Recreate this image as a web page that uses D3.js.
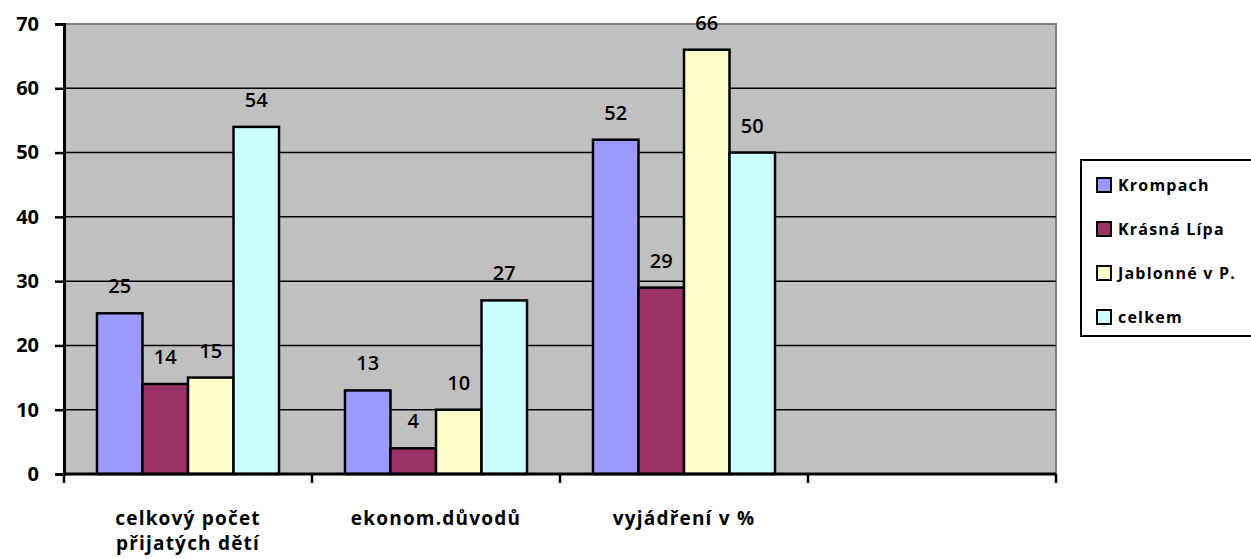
<!DOCTYPE html>
<html>
<head>
<meta charset="utf-8">
<script src="https://cdn.jsdelivr.net/npm/d3@7"></script>
<style>
  body { margin: 0; background: #fff; }
  .canvas svg { display: block; }
</style>
</head>
<body>
<div class="canvas"></div>
<script>
// data
const categories = ['celkový počet\npřijatých dětí', 'ekonom.důvodů', 'vyjádření v %', ''];
const seriesNames = ['Krompach', 'Krásná Lípa', 'Jablonné v P.', 'celkem'];
const krompach = [25, 13, 52];
const krasnaLipa = [14, 4, 29];
const jablonne = [15, 10, 66];
const celkem = [54, 27, 50];
const yTicks = [0, 10, 20, 30, 40, 50, 60, 70];
const colors = ['#9999ff', '#993366', '#ffffcc', '#ccffff'];

const seriesValues = [krompach, krasnaLipa, jablonne, celkem];

const svg = d3.select('.canvas').append('svg')
    .attr('width', 1251)
    .attr('height', 559);

const margin = { left: 64, top: 24, right: 195, bottom: 85 };
const graphWidth = 1251 - margin.left - margin.right;
const graphHeight = 559 - margin.top - margin.bottom;

const graph = svg.append('g')
    .attr('transform', `translate(${margin.left},${margin.top})`);

// scales
const y = d3.scaleLinear().domain([0, 70]).range([graphHeight, 0]);
const x0 = d3.scaleBand().domain(categories).range([0, graphWidth]);
const x1 = d3.scaleBand().domain(seriesNames)
    .range([0, x0.bandwidth()])
    .paddingOuter(0.725);

// plot background + border
graph.append('rect')
    .attr('width', graphWidth)
    .attr('height', graphHeight)
    .attr('fill', '#c0c0c0');
graph.append('path')
    .attr('d', `M0,0H${graphWidth}V${graphHeight}`)
    .attr('fill', 'none')
    .attr('stroke', '#808080')
    .attr('stroke-width', 2);

// gridlines
graph.append('g').selectAll('line')
    .data(yTicks.filter(d => d > 0 && d < 70))
    .enter().append('line')
    .attr('x1', 0).attr('x2', graphWidth)
    .attr('y1', d => y(d)).attr('y2', d => y(d))
    .attr('stroke', '#000')
    .attr('stroke-width', 1.5);

// bars
const groups = graph.append('g').selectAll('g')
    .data(categories.slice(0, 3))
    .enter().append('g')
    .attr('transform', d => `translate(${x0(d)},0)`);

groups.each(function (cat, ci) {
    const g = d3.select(this);
    const rows = seriesNames.map((s, si) => ({ s, si, v: seriesValues[si][ci] }));
    g.selectAll('rect')
        .data(rows)
        .enter().append('rect')
        .attr('x', d => x1(d.s))
        .attr('y', d => y(d.v))
        .attr('width', x1.bandwidth())
        .attr('height', d => graphHeight - y(d.v))
        .attr('fill', d => colors[d.si])
        .attr('stroke', '#000')
        .attr('stroke-width', 2.5);
    g.selectAll('text')
        .data(rows)
        .enter().append('text')
        .attr('x', d => x1(d.s) + x1.bandwidth() / 2)
        .attr('y', d => y(d.v) - 20)
        .attr('text-anchor', 'middle')
        .attr('font-family', 'Open Sans, sans-serif')
        .attr('font-size', 20)
        .attr('font-weight', 600)
        .attr('fill', '#000')
        .text(d => d.v);
});

// axes
const yAxis = d3.axisLeft(y).tickValues(yTicks).tickSize(9).tickPadding(16);
const yAxisGroup = graph.append('g').call(yAxis);
yAxisGroup.select('.domain').attr('stroke-width', 3);
yAxisGroup.selectAll('.tick line').attr('stroke-width', 2.5);
yAxisGroup.selectAll('text')
    .attr('font-family', 'Open Sans, sans-serif')
    .attr('font-weight', 'bold')
    .attr('font-size', 20)
    .attr('fill', '#000');

const xAxisGroup = graph.append('g')
    .attr('transform', `translate(0,${graphHeight})`);
xAxisGroup.append('line')
    .attr('x1', 0).attr('x2', graphWidth)
    .attr('stroke', '#000').attr('stroke-width', 3);
xAxisGroup.selectAll('.tk')
    .data(d3.range(categories.length + 1))
    .enter().append('line')
    .attr('class', 'tk')
    .attr('x1', i => i * x0.step()).attr('x2', i => i * x0.step())
    .attr('y1', 0).attr('y2', 9)
    .attr('stroke', '#000').attr('stroke-width', 2.5);

const catLabels = xAxisGroup.selectAll('.cl')
    .data(categories.slice(0, 3))
    .enter().append('text')
    .attr('class', 'cl')
    .attr('text-anchor', 'middle')
    .attr('font-family', 'Open Sans, sans-serif')
    .attr('font-weight', 'bold')
    .attr('font-size', 19)
    .attr('letter-spacing', 1.2)
    .attr('fill', '#000');
catLabels.each(function (d) {
    const lines = d.split('\n');
    d3.select(this).selectAll('tspan')
        .data(lines)
        .enter().append('tspan')
        .attr('x', x0(d) + x0.bandwidth() / 2)
        .attr('y', (l, i) => 51 + i * 25)
        .text(l => l);
});

// legend
const legend = svg.append('g').attr('transform', 'translate(1081,160)');
legend.append('rect')
    .attr('width', 172).attr('height', 176)
    .attr('fill', '#fff')
    .attr('stroke', '#000').attr('stroke-width', 2);
const items = legend.selectAll('.item')
    .data(seriesNames)
    .enter().append('g')
    .attr('class', 'item')
    .attr('transform', (d, i) => `translate(16,${25 + i * 44})`);
items.append('rect')
    .attr('x', 0).attr('y', -7)
    .attr('width', 14).attr('height', 14)
    .attr('fill', (d, i) => colors[i])
    .attr('stroke', '#000').attr('stroke-width', 2);
items.append('text')
    .attr('x', 21).attr('y', 6)
    .attr('font-family', 'Open Sans, sans-serif')
    .attr('font-weight', 'bold')
    .attr('font-size', 16)
    .attr('letter-spacing', 1.2)
    .attr('fill', '#000')
    .text(d => d);
</script>
</body>
</html>
